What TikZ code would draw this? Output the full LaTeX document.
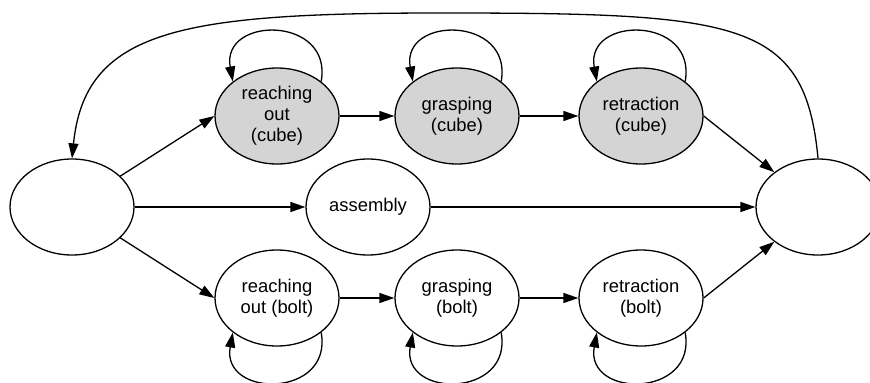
\documentclass[tikz,border=0pt]{standalone}
\usepackage{fontspec}
\setmainfont{Liberation Sans}
\usetikzlibrary{arrows.meta,shapes.geometric}
\definecolor{cubegray}{RGB}{212,212,212}

\begin{document}
\begin{tikzpicture}[x=0.5pt,y=0.5pt]
\tikzstyle{state}=[ellipse,draw,line width=0.65pt,minimum width=62pt,minimum height=48pt,inner sep=0pt,align=center,font=\fontsize{9.2}{10.5}\selectfont]
\tikzstyle{cube}=[state,fill=cubegray]
\tikzstyle{trans}=[line width=0.65pt,-{Triangle[length=7.5pt,width=5pt]}]
\useasboundingbox (0,0) rectangle (870,382);
%%%%%%%%%%%%%%%%%%%%%%%%%%%%%%%%%%%%%%%%%%%%%%%%%%%%%%%%%%%%%%%%%%%%%%%%%%%%%%%%%%%%%%%%
%% Draw states
%%%%%%%%%%%%%%%%%%%%%%%%%%%%%%%%%%%%%%%%%%%%%%%%%%%%%%%%%%%%%%%%%%%%%%%%%%%%%%%%%%%%%%%%
% start and end
\node[state] (init) at (72,175) {};
\node[state] (fin) at (818,175) {};

% cube branch
\node[cube] (rc) at (277,266) {reaching\\out\\(cube)};
\node[cube] (gc) at (457,266) {grasping\\(cube)};
\node[cube] (tc) at (641,266) {retraction\\(cube)};

% middle
\node[state] (asm) at (368,175) {assembly};

% bolt branch
\node[state] (rb) at (277,84) {reaching\\out (bolt)};
\node[state] (gb) at (457,84) {grasping\\(bolt)};
\node[state] (tb) at (641,84) {retraction\\(bolt)};
%%%%%%%%%%%%%%%%%%%%%%%%%%%%%%%%%%%%%%%%%%%%%%%%%%%%%%%%%%%%%%%%%%%%%%%%%%%%%%%%%%%%%%%%

%%%%%%%%%%%%%%%%%%%%%%%%%%%%%%%%%%%%%%%%%%%%%%%%%%%%%%%%%%%%%%%%%%%%%%%%%%%%%%%%%%%%%%%%
%%% Draw transitions
%%%%%%%%%%%%%%%%%%%%%%%%%%%%%%%%%%%%%%%%%%%%%%%%%%%%%%%%%%%%%%%%%%%%%%%%%%%%%%%%%%%%%%%%
\draw[trans] (init) -- (rc.west);
\draw[trans] (init.east) -- (asm.west);
\draw[trans] (init) -- (rb.west);

\draw[trans] (rc) -- (gc);
\draw[trans] (gc) -- (tc);
\draw[trans] (tc.east) -- (fin);

\draw[trans] (asm) -- (fin);

\draw[trans] (rb) -- (gb);
\draw[trans] (gb) -- (tb);
\draw[trans] (tb.east) -- (fin);

% self loops
\draw[trans] (rc.38) .. controls +(12,66) and +(-12,66) .. (rc.142);
\draw[trans] (gc.38) .. controls +(12,66) and +(-12,66) .. (gc.142);
\draw[trans] (tc.38) .. controls +(12,66) and +(-12,66) .. (tc.142);
\draw[trans] (rb.-38) .. controls +(12,-66) and +(-12,-66) .. (rb.-142);
\draw[trans] (gb.-38) .. controls +(12,-66) and +(-12,-66) .. (gb.-142);
\draw[trans] (tb.-38) .. controls +(12,-66) and +(-12,-66) .. (tb.-142);

% back to start
\coordinate (top) at (440,369);
\draw[trans] (fin.north) .. controls (805,362) and (740,369) .. (top)
  .. controls (180,369) and (85,352) .. (init.north);
%%%%%%%%%%%%%%%%%%%%%%%%%%%%%%%%%%%%%%%%%%%%%%%%%%%%%%%%%%%%%%%%%%%%%%%%%%%%%%%%%%%%%%%%

\end{tikzpicture}
\end{document}
